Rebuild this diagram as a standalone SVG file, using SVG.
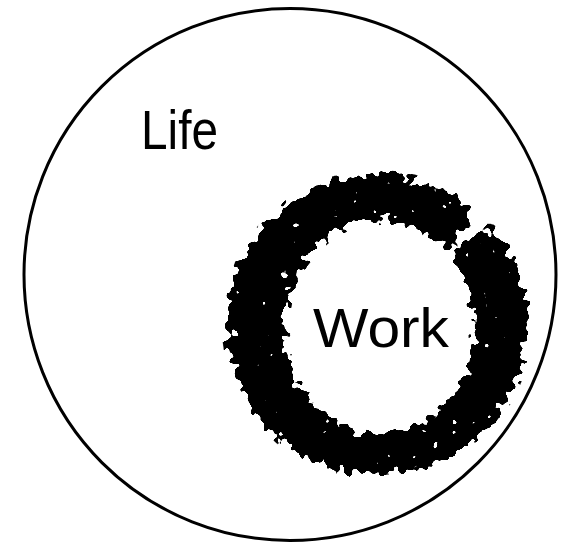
<svg xmlns="http://www.w3.org/2000/svg" width="561" height="545" viewBox="0 0 561 545">
  <style>
    .label { font-family: "Liberation Sans", "DejaVu Sans", sans-serif; fill: #000; }
  </style>
  <defs>
    <filter id="ink" x="-15%" y="-15%" width="130%" height="130%" color-interpolation-filters="sRGB">
      <feGaussianBlur in="SourceAlpha" stdDeviation="5" result="b"/>
      <feTurbulence type="fractalNoise" baseFrequency="0.1" numOctaves="2" seed="5" result="n"/>
      <feColorMatrix in="n" type="matrix" values="0 0 0 0 0  0 0 0 0 0  0 0 0 0 0  1 0 0 0 0" result="na"/>
      <feComposite in="b" in2="na" operator="arithmetic" k1="0" k2="1" k3="1.8" k4="-0.9" result="c"/>
      <feComponentTransfer in="c" result="t">
        <feFuncA type="linear" slope="25" intercept="-12"/>
      </feComponentTransfer>
      <feComponentTransfer in="b" result="m">
        <feFuncA type="linear" slope="20" intercept="-2"/>
      </feComponentTransfer>
      <feComposite in="t" in2="m" operator="in" result="tm"/>
      <feFlood flood-color="#000"/>
      <feComposite in2="tm" operator="in"/>
    </filter>
  </defs>
  <rect width="561" height="545" fill="#fff"/>
  <g id="life">
    <circle cx="290" cy="274.5" r="266" fill="none" stroke="#000" stroke-width="3"/>
    <text class="label" x="141" y="149" font-size="55" textLength="77" lengthAdjust="spacingAndGlyphs">Life</text>
  </g>
  <g id="work">
    <path filter="url(#ink)" fill="#000" fill-rule="evenodd" d="M 490.2 226.6 A 150 150 0 1 1 473.4 210.1 L 448.1 253.2 A 95 107 0 1 0 449.1 254.4 Z"/>
    <text class="label" x="313" y="347" font-size="55" textLength="136" lengthAdjust="spacingAndGlyphs">Work</text>
  </g>
  <g id="connectors"/>
</svg>
